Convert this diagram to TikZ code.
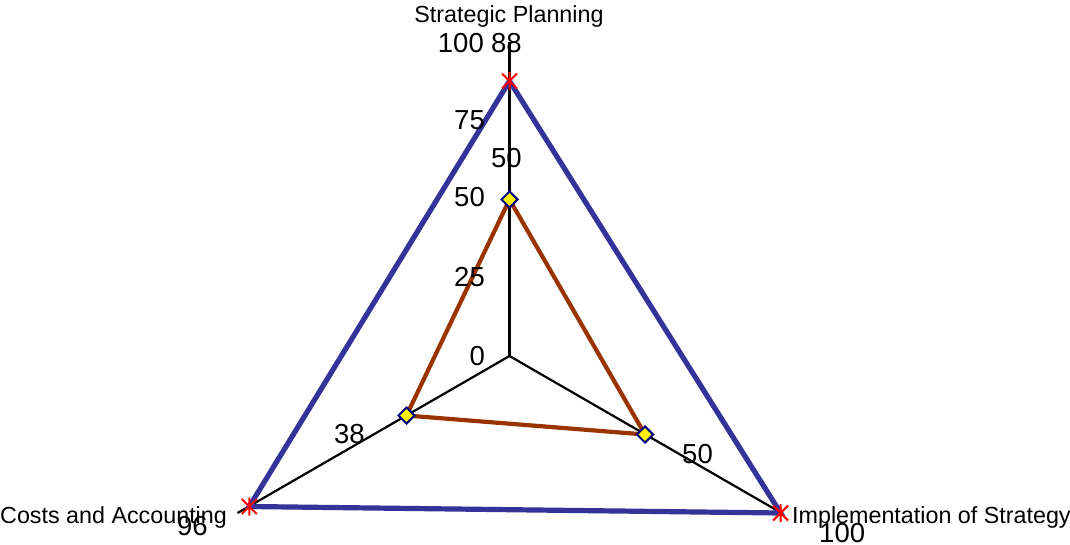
\documentclass[tikz,border=0pt]{standalone}
\usepackage{fontspec}
\setmainfont{Liberation Sans}
\usetikzlibrary{shapes.geometric}
\definecolor{polyblue}{RGB}{51,51,153}
\definecolor{polybrown}{RGB}{153,51,0}
\definecolor{mknavy}{RGB}{0,0,128}
\begin{document}
\begin{tikzpicture}[x=1pt,y=-1pt,
  axisline/.style={black,line width=2.2pt},
  seriesa/.style={polyblue,line width=5.2pt,line join=miter},
  seriesb/.style={polybrown,line width=4.2pt,line join=miter},
  diamk/.style={diamond,draw=mknavy,fill=yellow,line width=2pt,minimum width=17pt,minimum height=17pt,inner sep=0pt},
  starmk/.style={red,line width=2pt},
  axname/.style={inner sep=0pt,font=\fontsize{23.3}{28}\selectfont},
  numlab/.style={inner sep=0pt,font=\fontsize{27.5}{32}\selectfont}]
\useasboundingbox (0,0) rectangle (1070,545);
% axes
\coordinate (c) at (509.5,356);
\coordinate (etop) at (509.5,42);
\coordinate (eright) at (780.6,512.5);
\coordinate (eleft) at (237.5,513);
\draw[axisline] (c) -- (etop);
\draw[axisline] (c) -- (eright);
\draw[axisline] (c) -- (eleft);
% data points
\coordinate (a1) at (509.5,81);
\coordinate (a2) at (780.6,513);
\coordinate (a3) at (249.3,506.5);
\coordinate (b1) at (509.5,199.5);
\coordinate (b2) at (645.0,434.5);
\coordinate (b3) at (406.5,415.5);
\draw[seriesa] (a1) -- (a2) -- (a3) -- cycle;
\draw[seriesb] (b1) -- (b2) -- (b3) -- cycle;
% markers
\foreach \p in {a1,a2,a3}{
  \draw[starmk] (\p) +(-7.5,-7.5) -- +(7.5,7.5) (\p) +(-7.5,7.5) -- +(7.5,-7.5) (\p) +(0,-9) -- +(0,9);
}
\node[diamk] (mb1) at (b1) {};
\node[diamk] (mb2) at (b2) {};
\node[diamk] (mb3) at (b3) {};
% axis names
\node[axname,anchor=base] (n1) at (509,23) {Strategic Planning};
\node[axname,anchor=base west] (n2) at (0,523) {Costs and Accounting};
\node[axname,anchor=base west] (n3) at (792,523) {Implementation of Strategy};
% tick labels
\node[numlab,anchor=base east] (t0) at (485,365) {0};
\node[numlab,anchor=base east] (t25) at (485,287) {25};
\node[numlab,anchor=base east] (t50) at (485,207) {50};
\node[numlab,anchor=base east] (t75) at (485,130) {75};
\node[numlab,anchor=base east] (t100) at (484,53) {100};
% data labels
\node[numlab,anchor=base west] (d1) at (491,53) {88};
\node[numlab,anchor=base west] (d2) at (491,168) {50};
\node[numlab,anchor=base west] (d3) at (334,443) {38};
\node[numlab,anchor=base west] (d4) at (177,535) {96};
\node[numlab,anchor=base west] (d5) at (682,463) {50};
\node[numlab,anchor=base west] (d6) at (819,542) {100};
\end{tikzpicture}
\end{document}
